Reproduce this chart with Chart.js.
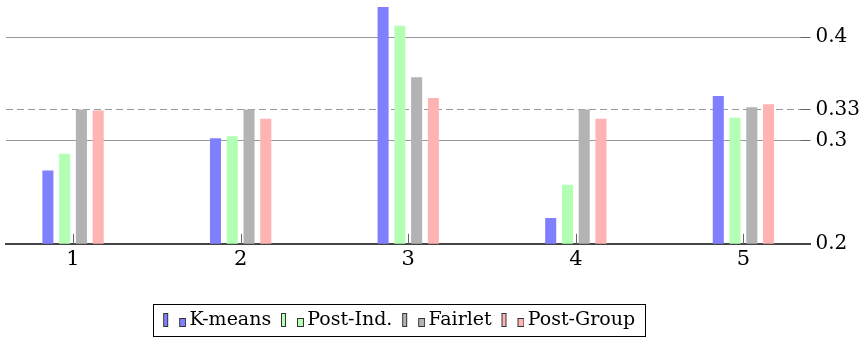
<!DOCTYPE html>
<html>
<head>
<meta charset="utf-8">
<script src="https://cdn.jsdelivr.net/npm/chart.js@4.4.0/dist/chart.umd.min.js"></script>
<style>
html, body { margin: 0; padding: 0; background: #fff; }
</style>
</head>
<body>
<canvas id="myChart" width="865" height="339"></canvas>
<script>
const runs = [1, 2, 3, 4, 5];
const yTicks = [0.2, 0.3, 0.33, 0.4];
const kmeans = [0.271, 0.302, 0.429, 0.225, 0.343];
const postInd = [0.287, 0.304, 0.411, 0.257, 0.322];
const fairlet = [0.330, 0.330, 0.361, 0.330, 0.332];
const postGroup = [0.329, 0.321, 0.341, 0.321, 0.335];

// only DejaVu Serif resolves as a serif face in the canvas here
const serif = 'DejaVu Serif';

// little two-bar icon like the pgfplots ybar legend
function legendIcon(color) {
  const c = document.createElement('canvas');
  c.width = 29; c.height = 15;
  const g = c.getContext('2d');
  g.fillStyle = color;
  g.strokeStyle = '#333';
  g.lineWidth = 1;
  g.fillRect(6.5, 0.5, 4, 13);
  g.strokeRect(6.5, 0.5, 4, 13);
  g.fillRect(22.5, 5.5, 6, 8);
  g.strokeRect(22.5, 5.5, 6, 8);
  return c;
}

const toPoints = vals => runs.map((r, i) => ({x: r, y: vals[i]}));

const data = {
  datasets: [
    {label: 'K-means', data: toPoints(kmeans), backgroundColor: '#8080ff'},
    {label: 'Post-Ind.', data: toPoints(postInd), backgroundColor: '#b3ffb3'},
    {label: 'Fairlet', data: toPoints(fairlet), backgroundColor: '#b3b3b3'},
    {label: 'Post-Group', data: toPoints(postGroup), backgroundColor: '#ffb3b3'}
  ]
};

const extras = {
  id: 'extras',
  afterLayout(chart) {
    chart.legend.left -= 9;
    chart.legend.right -= 9;
  },
  afterDraw(chart) {
    const {ctx, chartArea, scales: {x, y}} = chart;
    ctx.save();
    ctx.strokeStyle = '#666';
    ctx.lineWidth = 1;
    ctx.beginPath();
    runs.forEach(v => {
      const px = Math.round(x.getPixelForValue(v)) + 0.5;
      ctx.moveTo(px, chartArea.bottom);
      ctx.lineTo(px, chartArea.bottom - 10);
    });
    yTicks.slice(1).forEach(v => {
      const py = Math.round(y.getPixelForValue(v)) + 0.5;
      ctx.moveTo(chartArea.right - 10, py);
      ctx.lineTo(chartArea.right, py);
    });
    ctx.stroke();
    // legend frame
    const boxes = chart.legend.legendHitBoxes;
    if (boxes.length) {
      const first = boxes[0], last = boxes[boxes.length - 1];
      const left = first.left - 10;
      const right = last.left + last.width + 10;
      const top = first.top - 7;
      const bottom = first.top + first.height + 6;
      ctx.strokeStyle = '#000';
      ctx.strokeRect(Math.round(left) + 0.5, Math.round(top) + 0.5, Math.round(right - left), Math.round(bottom - top));
    }
    ctx.restore();
  }
};

const config = {
  type: 'bar',
  data: data,
  options: {
    responsive: false,
    animation: false,
    layout: {padding: {left: 6, right: 0, top: 6, bottom: -1}},
    datasets: {bar: {categoryPercentage: 0.4, barPercentage: 0.66}},
    plugins: {
      tooltip: {enabled: false},
      legend: {
        position: 'bottom',
        fullSize: false,
        labels: {
          usePointStyle: true,
          pointStyleWidth: 16.5,
          padding: 10,
          color: '#000',
          font: {family: serif, size: 19},
          generateLabels: chart => chart.data.datasets.map((ds, i) => ({
            text: ds.label,
            pointStyle: legendIcon(ds.backgroundColor),
            fillStyle: ds.backgroundColor,
            strokeStyle: ds.backgroundColor,
            lineWidth: 0,
            hidden: false,
            datasetIndex: i,
            fontColor: '#000'
          }))
        }
      }
    },
    scales: {
      x: {
        type: 'linear',
        min: 0.6,
        max: 5.4,
        offset: false,
        afterBuildTicks: scale => { scale.ticks = runs.map(v => ({value: v})); },
        afterFit: scale => { scale.height += 26; },
        grid: {display: false, drawTicks: false},
        border: {display: true, color: '#444', width: 2},
        ticks: {color: '#000', padding: 3, font: {family: serif, size: 21}, callback: v => String(v)}
      },
      y: {
        position: 'right',
        min: 0.2,
        max: 0.43,
        afterBuildTicks: scale => { scale.ticks = yTicks.map(v => ({value: v})); },
        afterFit: scale => { scale.paddingTop = 0; scale.paddingBottom = 0; },
        grid: {
          drawTicks: false,
          color: c => (c.tick && c.tick.value === 0.2) ? 'rgba(0,0,0,0)' : '#999',
          lineWidth: 1
        },
        border: {
          display: false,
          dash: c => (c.tick && c.tick.value === 0.33) ? [7, 4] : []
        },
        ticks: {color: '#000', padding: 5, font: {family: serif, size: 20}, callback: v => String(v)}
      }
    }
  },
  plugins: [extras]
};

window.myChart = new Chart(document.getElementById('myChart'), config);
</script>
</body>
</html>
